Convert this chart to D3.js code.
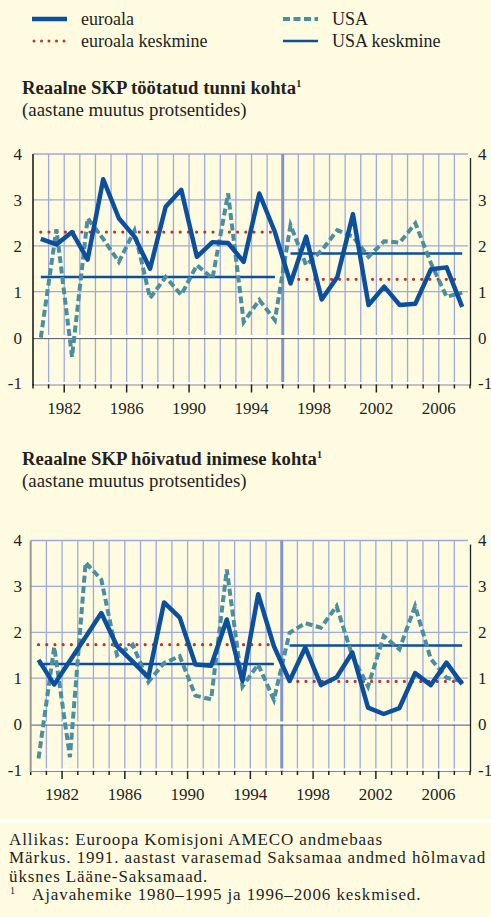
<!DOCTYPE html>
<html>
<head>
    <meta charset="utf-8">
    <script src="https://cdnjs.cloudflare.com/ajax/libs/d3/7.8.5/d3.min.js"></script>
    <title>Reaalne SKP</title>
    <style>
        body { margin: 0; background: #fefbe1; }
        text { font-family: "Liberation Serif", "Times New Roman", serif; fill: #231f20; }
    </style>
</head>
<body>
    <div id="graph"></div>

    <script>
        // categories
        var years = [1980, 1981, 1982, 1983, 1984, 1985, 1986, 1987, 1988, 1989, 1990, 1991, 1992, 1993,
            1994, 1995, 1996, 1997, 1998, 1999, 2000, 2001, 2002, 2003, 2004, 2005, 2006, 2007];
        var tickYears = [1982, 1986, 1990, 1994, 1998, 2002, 2006];
        var yTicks = [-1, 0, 1, 2, 3, 4];
        var periods = [[1980, 1995], [1996, 2007]];

        // Reaalne SKP töötatud tunni kohta
        var tunniEuro = [2.15, 2.03, 2.3, 1.7, 3.45, 2.6, 2.2, 1.5, 2.85, 3.22, 1.76, 2.08, 2.06, 1.65,
            3.14, 2.3, 1.18, 2.2, 0.83, 1.32, 2.69, 0.71, 1.11, 0.71, 0.74, 1.49, 1.53, 0.67];
        var tunniUsa = [0.0, 2.36, -0.42, 2.6, 2.15, 1.65, 2.33, 0.86, 1.32, 0.93, 1.58, 1.29, 3.14, 0.34,
            0.82, 0.38, 2.45, 1.58, 1.9, 2.34, 2.2, 1.76, 2.1, 2.07, 2.49, 1.62, 0.89, 0.98];
        var tunniEuroMean = [2.3, 1.27];
        var tunniUsaMean = [1.32, 1.83];

        // Reaalne SKP hõivatud inimese kohta
        var inimeseEuro = [1.4, 0.86, 1.38, 1.9, 2.42, 1.7, 1.36, 1.02, 2.65, 2.32, 1.3, 1.27, 2.28, 0.94,
            2.83, 1.7, 0.94, 1.67, 0.85, 1.02, 1.56, 0.36, 0.22, 0.35, 1.11, 0.85, 1.34, 0.87];
        var inimeseUsa = [-0.75, 1.68, -0.72, 3.52, 3.15, 1.5, 1.73, 0.92, 1.33, 1.48, 0.62, 0.54, 3.37, 0.82,
            1.3, 0.53, 1.99, 2.2, 2.1, 2.57, 1.48, 0.82, 1.92, 1.63, 2.57, 1.42, 1.01, 0.93];
        var inimeseEuroMean = [1.73, 0.93];
        var inimeseUsaMean = [1.31, 1.71];

        var colEuro = "#0b4f9e", colUsa = "#4a8ea2", colMean = "#b3382e",
            colGrid = "#9caadc", colBg = "#fefbe1";

        var svg = d3.select("#graph")
            .append("svg")
            .attr("width", 491)
            .attr("height", 917)
            .style("display", "block");

        svg.append("rect").attr("width", 491).attr("height", 917).attr("fill", colBg);

        // legend
        var legend = [
            { x: 32, y: 19, name: "euroala", color: colEuro, w: 4.5, dash: null },
            { x: 32, y: 41, name: "euroala keskmine", color: colMean, w: 3, dash: "0,7.5" },
            { x: 283, y: 19, name: "USA", color: colUsa, w: 4, dash: "7,3.5" },
            { x: 283, y: 41, name: "USA keskmine", color: colEuro, w: 2.5, dash: null }
        ];
        var lg = svg.selectAll(".lg").data(legend).enter().append("g");
        lg.append("line")
            .attr("x1", function (d) { return d.x + (d.dash && d.w == 3 ? 2 : 0) })
            .attr("x2", function (d) { return d.x + 35 })
            .attr("y1", function (d) { return d.y })
            .attr("y2", function (d) { return d.y })
            .attr("stroke", function (d) { return d.color })
            .attr("stroke-width", function (d) { return d.w })
            .attr("stroke-dasharray", function (d) { return d.dash })
            .attr("stroke-linecap", function (d) { return d.w == 3 ? "round" : "butt" });
        lg.append("text")
            .attr("x", function (d) { return d.x + 49 })
            .attr("y", function (d) { return d.y + 6 })
            .attr("font-size", "18px")
            .text(function (d) { return d.name });

        function title(y, main, sub) {
            var t = svg.append("text").attr("x", 22).attr("y", y)
                .attr("font-size", "18.7px").attr("font-weight", "bold");
            t.append("tspan").text(main);
            t.append("tspan").attr("font-size", "10px").attr("dy", -7).text("1");
            svg.append("text").attr("x", 22).attr("y", y + 21.5)
                .attr("font-size", "18.9px").text(sub);
        }

        function drawChart(c) {
            var x = d3.scaleLinear().domain([1980, 2008]).range([c.left, 470]);
            var y = d3.scaleLinear().domain([-1, 4]).range([c.bottom, c.top]);
            var g = svg.append("g");

            // horizontal grid
            g.selectAll(".hg").data([1, 2, 3, 4]).enter().append("line")
                .attr("x1", c.left).attr("x2", 468)
                .attr("y1", function (d) { return y(d) }).attr("y2", function (d) { return y(d) })
                .attr("stroke", colGrid).attr("stroke-width", 1.3);

            // vertical grid
            g.selectAll(".vg").data(years.slice(1)).enter().append("line")
                .attr("x1", function (d) { return x(d) }).attr("x2", function (d) { return x(d) })
                .attr("y1", y(4)).attr("y2", y(-1) + 2)
                .attr("stroke", function (d) { return d == 1996 ? "#8294cc" : colGrid })
                .attr("stroke-width", function (d) { return d == 1996 ? 3 : 1.3 });

            // zero line
            g.append("line").attr("x1", c.left).attr("x2", 470)
                .attr("y1", y(0) - 1).attr("y2", y(0) - 1)
                .attr("stroke", "#ffffff").attr("stroke-width", 3);
            g.append("line").attr("x1", c.left).attr("x2", 470)
                .attr("y1", y(0) + 1).attr("y2", y(0) + 1)
                .attr("stroke", "#555").attr("stroke-width", 1);

            // bottom axis with ticks
            g.append("line").attr("x1", c.left).attr("x2", 470)
                .attr("y1", y(-1) - 0.5).attr("y2", y(-1) - 0.5)
                .attr("stroke", "#ffffff").attr("stroke-width", 2);
            g.append("line").attr("x1", c.left).attr("x2", 470)
                .attr("y1", y(-1) + 1.5).attr("y2", y(-1) + 1.5)
                .attr("stroke", "#8a8a8a").attr("stroke-width", 1);
            g.selectAll(".tk").data(years.concat([2008])).enter().append("line")
                .attr("x1", function (d) { return x(d) }).attr("x2", function (d) { return x(d) })
                .attr("y1", y(-1) + 1)
                .attr("y2", function (d) { return y(-1) + (tickYears.indexOf(d) >= 0 ? 9 : 5) })
                .attr("stroke", "#222").attr("stroke-width", 1.5);

            // side axes
            g.append("line").attr("x1", c.left).attr("x2", c.left)
                .attr("y1", y(4)).attr("y2", y(-1) + 2)
                .attr("stroke", c.leftColor).attr("stroke-width", c.leftWidth);
            g.append("line").attr("x1", 470.5).attr("x2", 470.5)
                .attr("y1", y(4) + 4).attr("y2", y(-1) + 2)
                .attr("stroke", "#222").attr("stroke-width", 1.3);

            // y labels both sides
            g.selectAll(".yl").data(yTicks).enter().append("text")
                .attr("x", 22).attr("y", function (d) { return y(d) })
                .attr("dy", "0.35em").attr("text-anchor", "end").attr("font-size", "17px")
                .text(function (d) { return d });
            g.selectAll(".yr").data(yTicks).enter().append("text")
                .attr("x", 478).attr("y", function (d) { return y(d) })
                .attr("dy", "0.35em").attr("font-size", "17px")
                .text(function (d) { return d });

            // x labels
            g.selectAll(".xl").data(tickYears).enter().append("text")
                .attr("x", function (d) { return x(d) }).attr("y", y(-1) + 30)
                .attr("text-anchor", "middle").attr("font-size", "17px")
                .text(function (d) { return d });

            // mean lines
            periods.forEach(function (p, i) {
                g.append("line")
                    .attr("x1", x(p[0] + 0.5)).attr("x2", x(p[1] + 0.5))
                    .attr("y1", y(c.usaMean[i])).attr("y2", y(c.usaMean[i]))
                    .attr("stroke", colEuro).attr("stroke-width", 2.5);
                g.append("line")
                    .attr("x1", x(p[0] + 0.5)).attr("x2", x(p[1] + 0.5))
                    .attr("y1", y(c.euroMean[i])).attr("y2", y(c.euroMean[i]))
                    .attr("stroke", colMean).attr("stroke-width", 3.2)
                    .attr("stroke-linecap", "round").attr("stroke-dasharray", "0,8.2");
            });

            var line = d3.line()
                .x(function (d, i) { return x(years[i] + 0.5) })
                .y(function (d) { return y(d) });

            g.append("path").datum(c.usa).attr("d", line)
                .attr("fill", "none").attr("stroke", colUsa).attr("stroke-width", 4)
                .attr("stroke-dasharray", "7,3.5");
            g.append("path").datum(c.euro).attr("d", line)
                .attr("fill", "none").attr("stroke", colEuro).attr("stroke-width", 4.5)
                .attr("stroke-linejoin", "round");
        }

        title(94, "Reaalne SKP töötatud tunni kohta", "(aastane muutus protsentides)");
        drawChart({ top: 154, bottom: 383.5, left: 33, euro: tunniEuro, usa: tunniUsa,
            euroMean: tunniEuroMean, usaMean: tunniUsaMean, leftColor: "#111", leftWidth: 1.5 });

        title(465, "Reaalne SKP hõivatud inimese kohta", "(aastane muutus protsentides)");
        drawChart({ top: 540.5, bottom: 770, left: 30.7, euro: inimeseEuro, usa: inimeseUsa,
            euroMean: inimeseEuroMean, usaMean: inimeseUsaMean, leftColor: "#999", leftWidth: 2 });

        // footer
        svg.append("line").attr("x1", 0).attr("x2", 491).attr("y1", 821).attr("y2", 821)
            .attr("stroke", "#ffffff").attr("stroke-width", 3);
        var notes = [
            "Allikas: Euroopa Komisjoni AMECO andmebaas",
            "Märkus. 1991. aastast varasemad Saksamaa andmed hõlmavad",
            "üksnes Lääne-Saksamaad."
        ];
        svg.selectAll(".note").data(notes).enter().append("text")
            .attr("x", 9).attr("y", function (d, i) { return 845 + i * 18.4 })
            .attr("font-size", "17px").attr("letter-spacing", "0.9px")
            .text(function (d) { return d });
        svg.append("text").attr("x", 10).attr("y", 894).attr("font-size", "10px").text("1");
        svg.append("text").attr("x", 32).attr("y", 900.2).attr("font-size", "17px")
            .attr("letter-spacing", "0.9px")
            .text("Ajavahemike 1980–1995 ja 1996–2006 keskmised.");
    </script>
</body>
</html>
